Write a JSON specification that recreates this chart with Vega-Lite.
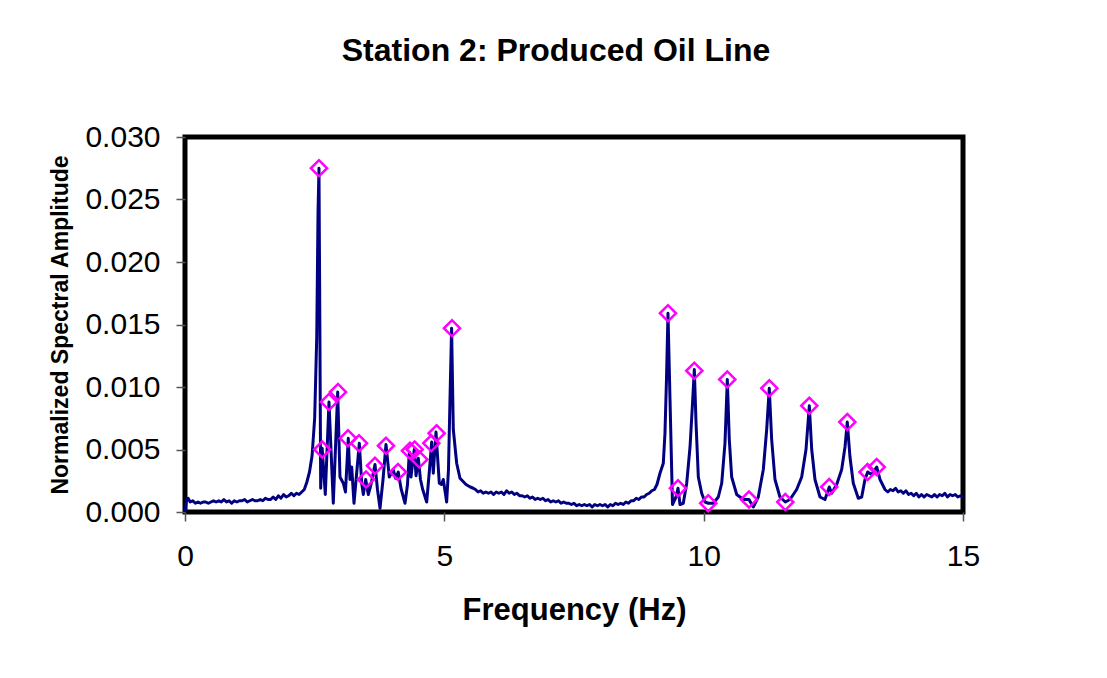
{
  "$schema": "https://vega.github.io/schema/vega-lite/v6.json",
  "autosize": {"type": "none"},
  "padding": {"left": 185, "top": 137, "right": 144, "bottom": 166},
  "width": 778,
  "height": 375,
  "background": "white",
  "title": {
    "text": "Station 2: Produced Oil Line",
    "font": "Liberation Sans",
    "fontSize": 32,
    "fontWeight": "bold",
    "color": "black",
    "frame": "group",
    "anchor": "middle",
    "dx": -18,
    "baseline": "alphabetic",
    "offset": 29
  },
  "datasets": {
    "spectrum": [
      {"f":0.00,"a":0.0000},{"f":0.03,"a":0.0010},{"f":0.06,"a":0.0011},{"f":0.10,"a":0.0008},{"f":0.15,"a":0.0009},
      {"f":0.20,"a":0.0007},{"f":0.25,"a":0.0008},{"f":0.30,"a":0.0007},{"f":0.35,"a":0.0008},{"f":0.40,"a":0.0008},
      {"f":0.45,"a":0.0007},{"f":0.50,"a":0.0008},{"f":0.55,"a":0.0009},{"f":0.60,"a":0.0008},{"f":0.65,"a":0.0009},
      {"f":0.70,"a":0.0008},{"f":0.75,"a":0.0010},{"f":0.80,"a":0.0008},{"f":0.85,"a":0.0009},{"f":0.90,"a":0.0007},
      {"f":0.95,"a":0.0009},{"f":1.00,"a":0.0008},{"f":1.05,"a":0.0009},{"f":1.10,"a":0.0009},{"f":1.15,"a":0.0010},
      {"f":1.20,"a":0.0008},{"f":1.25,"a":0.0009},{"f":1.30,"a":0.0010},{"f":1.35,"a":0.0009},{"f":1.40,"a":0.0009},
      {"f":1.45,"a":0.0010},{"f":1.50,"a":0.0009},{"f":1.55,"a":0.0011},{"f":1.60,"a":0.0010},{"f":1.65,"a":0.0010},
      {"f":1.70,"a":0.0012},{"f":1.75,"a":0.0010},{"f":1.80,"a":0.0013},{"f":1.85,"a":0.0011},{"f":1.90,"a":0.0014},
      {"f":1.95,"a":0.0012},{"f":2.00,"a":0.0013},{"f":2.05,"a":0.0015},{"f":2.10,"a":0.0013},{"f":2.15,"a":0.0015},
      {"f":2.20,"a":0.0014},{"f":2.25,"a":0.0016},{"f":2.30,"a":0.0018},{"f":2.35,"a":0.0024},{"f":2.40,"a":0.0032},
      {"f":2.45,"a":0.0045},{"f":2.50,"a":0.0075},{"f":2.54,"a":0.0140},{"f":2.565,"a":0.0240},{"f":2.583,"a":0.0275},
      {"f":2.60,"a":0.0150},{"f":2.616,"a":0.0019},{"f":2.645,"a":0.0051},{"f":2.705,"a":0.0014},{"f":2.776,"a":0.0088},
      {"f":2.859,"a":0.0007},{"f":2.944,"a":0.0096},{"f":2.988,"a":0.0028},{"f":3.052,"a":0.0023},{"f":3.094,"a":0.0016},
      {"f":3.148,"a":0.0059},{"f":3.181,"a":0.0026},{"f":3.214,"a":0.0036},{"f":3.258,"a":0.0007},{"f":3.361,"a":0.0055},
      {"f":3.407,"a":0.0023},{"f":3.438,"a":0.0014},{"f":3.484,"a":0.0026},{"f":3.534,"a":0.0014},{"f":3.586,"a":0.0022},
      {"f":3.663,"a":0.0038},{"f":3.711,"a":0.0018},{"f":3.760,"a":0.0003},{"f":3.818,"a":0.0026},{"f":3.875,"a":0.0054},
      {"f":3.939,"a":0.0028},{"f":4.016,"a":0.0034},{"f":4.058,"a":0.0027},{"f":4.112,"a":0.0032},{"f":4.164,"a":0.0019},
      {"f":4.242,"a":0.0007},{"f":4.290,"a":0.0022},{"f":4.325,"a":0.0048},{"f":4.357,"a":0.0028},{"f":4.421,"a":0.0050},
      {"f":4.454,"a":0.0029},{"f":4.498,"a":0.0043},{"f":4.540,"a":0.0026},{"f":4.583,"a":0.0018},{"f":4.660,"a":0.0008},
      {"f":4.714,"a":0.0034},{"f":4.756,"a":0.0056},{"f":4.787,"a":0.0031},{"f":4.839,"a":0.0064},{"f":4.903,"a":0.0023},
      {"f":4.945,"a":0.0022},{"f":4.980,"a":0.0026},{"f":5.045,"a":0.0008},{"f":5.080,"a":0.0034},{"f":5.109,"a":0.0090},
      {"f":5.140,"a":0.0147},{"f":5.173,"a":0.0066},{"f":5.238,"a":0.0039},{"f":5.302,"a":0.0027},{"f":5.418,"a":0.0022},
      {"f":5.50,"a":0.0020},{"f":5.558,"a":0.0019},
      {"f":5.60,"a":0.0018},{"f":5.65,"a":0.0016},{"f":5.70,"a":0.0017},{"f":5.75,"a":0.0015},{"f":5.80,"a":0.0016},
      {"f":5.85,"a":0.0015},{"f":5.90,"a":0.0016},{"f":5.95,"a":0.0014},{"f":6.00,"a":0.0016},{"f":6.05,"a":0.0015},
      {"f":6.10,"a":0.0016},{"f":6.15,"a":0.0014},{"f":6.20,"a":0.0017},{"f":6.25,"a":0.0015},{"f":6.30,"a":0.0016},
      {"f":6.35,"a":0.0014},{"f":6.40,"a":0.0015},{"f":6.45,"a":0.0013},{"f":6.50,"a":0.0013},{"f":6.55,"a":0.0012},
      {"f":6.60,"a":0.0013},{"f":6.65,"a":0.0011},{"f":6.70,"a":0.0012},{"f":6.75,"a":0.0010},{"f":6.80,"a":0.0011},
      {"f":6.85,"a":0.0010},{"f":6.90,"a":0.0011},{"f":6.95,"a":0.0009},{"f":7.00,"a":0.0010},{"f":7.05,"a":0.0008},
      {"f":7.10,"a":0.0009},{"f":7.15,"a":0.0008},{"f":7.20,"a":0.0009},{"f":7.25,"a":0.0007},{"f":7.30,"a":0.0008},
      {"f":7.35,"a":0.0007},{"f":7.40,"a":0.0007},{"f":7.45,"a":0.0006},{"f":7.50,"a":0.0007},{"f":7.55,"a":0.0005},
      {"f":7.60,"a":0.0006},{"f":7.65,"a":0.0005},{"f":7.70,"a":0.0006},{"f":7.75,"a":0.0005},{"f":7.80,"a":0.0006},
      {"f":7.85,"a":0.0004},{"f":7.90,"a":0.0006},{"f":7.95,"a":0.0005},{"f":8.00,"a":0.0006},{"f":8.05,"a":0.0005},
      {"f":8.10,"a":0.0006},{"f":8.15,"a":0.0004},{"f":8.20,"a":0.0006},{"f":8.25,"a":0.0005},{"f":8.30,"a":0.0007},
      {"f":8.35,"a":0.0006},{"f":8.40,"a":0.0007},{"f":8.45,"a":0.0006},{"f":8.50,"a":0.0008},{"f":8.55,"a":0.0007},
      {"f":8.60,"a":0.0009},{"f":8.65,"a":0.0009},{"f":8.70,"a":0.0011},{"f":8.75,"a":0.0010},{"f":8.80,"a":0.0012},
      {"f":8.85,"a":0.0012},{"f":8.90,"a":0.0014},{"f":8.95,"a":0.0015},{"f":9.00,"a":0.0017},{"f":9.05,"a":0.0018},
      {"f":9.10,"a":0.0022},{"f":9.158,"a":0.0031},{"f":9.222,"a":0.0039},{"f":9.254,"a":0.0063},
      {"f":9.283,"a":0.0106},{"f":9.312,"a":0.0159},{"f":9.351,"a":0.0090},{"f":9.399,"a":0.0006},{"f":9.466,"a":0.0012},
      {"f":9.505,"a":0.0019},{"f":9.544,"a":0.0006},{"f":9.607,"a":0.0007},{"f":9.673,"a":0.0023},{"f":9.737,"a":0.0052},
      {"f":9.781,"a":0.0084},{"f":9.820,"a":0.0114},{"f":9.853,"a":0.0071},{"f":9.897,"a":0.0028},{"f":9.962,"a":0.0015},
      {"f":10.026,"a":0.0008},{"f":10.089,"a":0.0007},{"f":10.186,"a":0.0007},{"f":10.282,"a":0.0012},{"f":10.348,"a":0.0023},
      {"f":10.411,"a":0.0055},{"f":10.456,"a":0.0106},{"f":10.494,"a":0.0058},{"f":10.540,"a":0.0028},{"f":10.637,"a":0.0014},
      {"f":10.764,"a":0.0010},{"f":10.874,"a":0.0010},{"f":10.957,"a":0.0004},{"f":11.053,"a":0.0012},{"f":11.150,"a":0.0034},
      {"f":11.215,"a":0.0066},{"f":11.265,"a":0.0099},{"f":11.311,"a":0.0058},{"f":11.375,"a":0.0026},{"f":11.471,"a":0.0012},
      {"f":11.574,"a":0.0008},{"f":11.664,"a":0.0010},{"f":11.793,"a":0.0018},{"f":11.890,"a":0.0028},{"f":11.973,"a":0.0050},
      {"f":12.037,"a":0.0085},{"f":12.083,"a":0.0050},{"f":12.146,"a":0.0026},{"f":12.243,"a":0.0012},{"f":12.339,"a":0.0010},
      {"f":12.422,"a":0.0020},{"f":12.468,"a":0.0015},{"f":12.565,"a":0.0022},{"f":12.661,"a":0.0034},{"f":12.725,"a":0.0052},
      {"f":12.769,"a":0.0072},{"f":12.821,"a":0.0044},{"f":12.885,"a":0.0023},{"f":12.981,"a":0.0011},{"f":13.047,"a":0.0012},
      {"f":13.110,"a":0.0026},{"f":13.162,"a":0.0032},{"f":13.239,"a":0.0030},{"f":13.336,"a":0.0036},{"f":13.400,"a":0.0026},
      {"f":13.496,"a":0.0018},
      {"f":13.55,"a":0.0016},{"f":13.60,"a":0.0018},{"f":13.65,"a":0.0017},{"f":13.70,"a":0.0019},{"f":13.75,"a":0.0016},
      {"f":13.80,"a":0.0017},{"f":13.85,"a":0.0015},{"f":13.90,"a":0.0017},{"f":13.95,"a":0.0014},{"f":14.00,"a":0.0015},
      {"f":14.05,"a":0.0013},{"f":14.10,"a":0.0015},{"f":14.15,"a":0.0012},{"f":14.20,"a":0.0014},{"f":14.25,"a":0.0012},
      {"f":14.30,"a":0.0014},{"f":14.35,"a":0.0013},{"f":14.40,"a":0.0012},{"f":14.45,"a":0.0014},{"f":14.50,"a":0.0012},
      {"f":14.55,"a":0.0014},{"f":14.60,"a":0.0013},{"f":14.65,"a":0.0015},{"f":14.70,"a":0.0012},{"f":14.75,"a":0.0014},
      {"f":14.80,"a":0.0013},{"f":14.85,"a":0.0014},{"f":14.90,"a":0.0012},{"f":14.95,"a":0.0013},{"f":15.00,"a":0.0012}
    ],
    "peaks": [
      {"f":2.583,"a":0.0275},{"f":2.645,"a":0.0050},{"f":2.776,"a":0.0088},{"f":2.950,"a":0.0096},{"f":3.143,"a":0.0059},
      {"f":3.355,"a":0.0055},{"f":3.490,"a":0.0026},{"f":3.663,"a":0.0037},{"f":3.875,"a":0.0053},{"f":4.107,"a":0.0032},
      {"f":4.338,"a":0.0049},{"f":4.428,"a":0.0050},{"f":4.518,"a":0.0042},{"f":4.749,"a":0.0055},{"f":4.852,"a":0.0063},
      {"f":5.148,"a":0.0147},{"f":9.312,"a":0.0159},{"f":9.505,"a":0.0019},{"f":9.820,"a":0.0113},{"f":10.089,"a":0.0007},
      {"f":10.456,"a":0.0106},{"f":10.874,"a":0.0010},{"f":11.266,"a":0.0099},{"f":11.574,"a":0.0008},{"f":12.037,"a":0.0085},
      {"f":12.420,"a":0.0020},{"f":12.770,"a":0.0072},{"f":13.160,"a":0.0032},{"f":13.336,"a":0.0036}
    ]
  },
  "encoding": {
    "x": {
      "field": "f", "type": "quantitative",
      "scale": {"domain": [0, 15], "nice": false},
      "axis": {
        "values": [0, 5, 10, 15], "title": "Frequency (Hz)",
        "titleFontSize": 31, "titleFontWeight": "bold", "titlePadding": 24,
        "labelFontSize": 30, "labelPadding": 20, "tickSize": 9, "labelFlush": false
      }
    },
    "y": {
      "field": "a", "type": "quantitative",
      "scale": {"domain": [0, 0.03], "nice": false},
      "axis": {
        "values": [0, 0.005, 0.01, 0.015, 0.02, 0.025, 0.03], "format": ".3f",
        "title": "Normalized Spectral Amplitude",
        "titleFontSize": 23, "titleFontWeight": "bold", "titlePadding": 12,
        "labelFontSize": 30, "labelPadding": 16, "tickSize": 9, "labelFlush": false
      }
    }
  },
  "layer": [
    {
      "data": {"name": "spectrum"},
      "mark": {"type": "line", "color": "#000080", "strokeWidth": 3, "strokeJoin": "round"}
    },
    {
      "data": {"name": "peaks"},
      "mark": {"type": "point", "shape": "diamond", "filled": false, "stroke": "#FF00FF", "strokeWidth": 2.5, "size": 260, "opacity": 1}
    }
  ],
  "config": {
    "font": "Liberation Sans",
    "view": {"stroke": "black", "strokeWidth": 5},
    "axis": {
      "grid": false, "domain": false,
      "labelFont": "Liberation Sans", "titleFont": "Liberation Sans",
      "labelColor": "black", "titleColor": "black",
      "tickColor": "#555555", "tickWidth": 1.5,
      "labelOverlap": false, "labelBound": false
    }
  }
}
